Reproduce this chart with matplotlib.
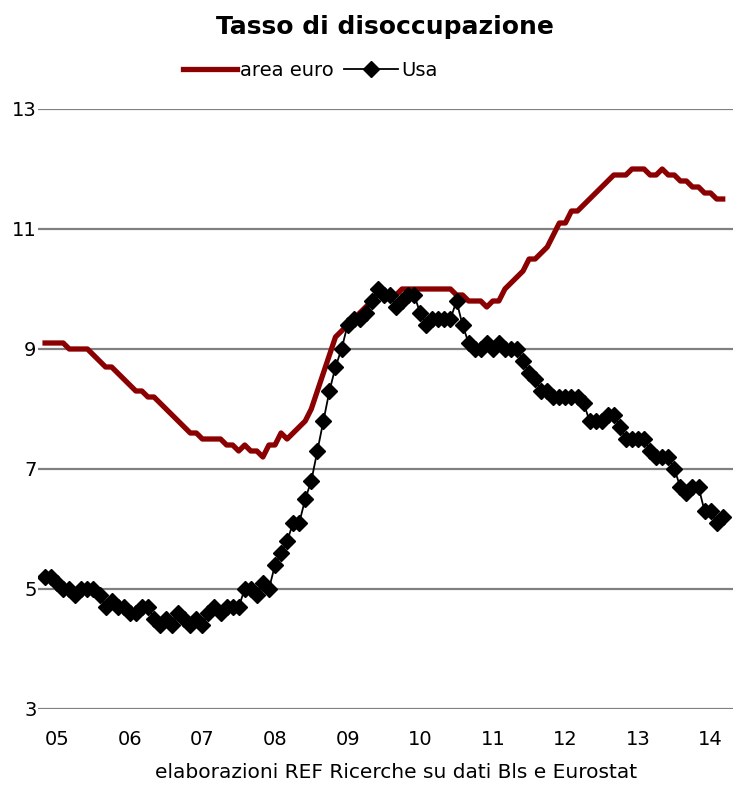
import matplotlib.pyplot as plt
import numpy as np

# monthly data, Mar 2005 - Jul 2014 (month index 0 = Jan 2005)
months = np.arange(2, 115)

area_euro = [9.1, 9.1, 9.1, 9.1, 9.0, 9.0, 9.0, 9.0, 8.9, 8.8,
             8.7, 8.7, 8.6, 8.5, 8.4, 8.3, 8.3, 8.2, 8.2, 8.1, 8.0, 7.9, 7.8, 7.7,
             7.6, 7.6, 7.5, 7.5, 7.5, 7.5, 7.4, 7.4, 7.3, 7.4, 7.3, 7.3,
             7.2, 7.4, 7.4, 7.6, 7.5, 7.6, 7.7, 7.8, 8.0, 8.3, 8.6, 8.9,
             9.2, 9.3, 9.4, 9.5, 9.6, 9.7, 9.8, 9.9, 9.9, 9.9, 9.9, 10.0,
             10.0, 10.0, 10.0, 10.0, 10.0, 10.0, 10.0, 10.0, 9.9, 9.9, 9.8, 9.8,
             9.8, 9.7, 9.8, 9.8, 10.0, 10.1, 10.2, 10.3, 10.5, 10.5, 10.6, 10.7,
             10.9, 11.1, 11.1, 11.3, 11.3, 11.4, 11.5, 11.6, 11.7, 11.8, 11.9, 11.9,
             11.9, 12.0, 12.0, 12.0, 11.9, 11.9, 12.0, 11.9, 11.9, 11.8, 11.8, 11.7,
             11.7, 11.6, 11.6, 11.5, 11.5]

usa = [5.2, 5.2, 5.1, 5.0, 5.0, 4.9, 5.0, 5.0, 5.0, 4.9,
       4.7, 4.8, 4.7, 4.7, 4.6, 4.6, 4.7, 4.7, 4.5, 4.4, 4.5, 4.4,
       4.6, 4.5, 4.4, 4.5, 4.4, 4.6, 4.7, 4.6, 4.7, 4.7, 4.7, 5.0,
       5.0, 4.9, 5.1, 5.0, 5.4, 5.6, 5.8, 6.1, 6.1, 6.5, 6.8, 7.3,
       7.8, 8.3, 8.7, 9.0, 9.4, 9.5, 9.5, 9.6, 9.8, 10.0, 9.9, 9.9,
       9.7, 9.8, 9.9, 9.9, 9.6, 9.4, 9.5, 9.5, 9.5, 9.5, 9.8, 9.4,
       9.1, 9.0, 9.0, 9.1, 9.0, 9.1, 9.0, 9.0, 9.0, 8.8, 8.6, 8.5,
       8.3, 8.3, 8.2, 8.2, 8.2, 8.2, 8.2, 8.1, 7.8, 7.8, 7.8, 7.9,
       7.9, 7.7, 7.5, 7.5, 7.5, 7.5, 7.3, 7.2, 7.2, 7.2, 7.0, 6.7,
       6.6, 6.7, 6.7, 6.3, 6.3, 6.1, 6.2]

year_labels = ['05', '06', '07', '08', '09', '10', '11', '12', '13', '14']
year_pos = [4 + 12 * i for i in range(len(year_labels))]

plt.rcParams['font.family'] = 'DejaVu Sans'

fig = plt.figure(figsize=(7.33, 7.87), dpi=100)
ax = fig.add_axes([38 / 733, 78 / 787, 695 / 733, 600 / 787])

ax.plot(months, area_euro, color='#8b0000', lw=3.8, label='area euro',
        solid_joinstyle='round', zorder=3)
ax.plot(months, usa, color='black', lw=1.3, marker='D', markersize=8,
        label='Usa', zorder=4)

ax.set_ylim(3, 13)
ax.set_xlim(0.83, 115.7)
ax.set_yticks([3, 5, 7, 9, 11, 13])
ax.set_xticks(year_pos)
ax.set_xticklabels(year_labels)
ax.tick_params(length=0, labelsize=14)
ax.tick_params(axis='y', pad=1)
ax.tick_params(axis='x', pad=15)
ax.yaxis.grid(True, color='#808080', lw=1.6)
ax.set_axisbelow(True)
for s in ax.spines.values():
    s.set_visible(False)

fig.text(0.525, 1 - 27 / 787, 'Tasso di disoccupazione', ha='center', va='center',
         fontsize=18, fontweight='bold')
fig.text(0.540, 1 - 773 / 787, 'elaborazioni REF Ricerche su dati Bls e Eurostat',
         ha='center', va='center', fontsize=14.5)
fig.legend(loc='center', bbox_to_anchor=(0.423, 1 - 70 / 787), ncol=2, frameon=False,
           fontsize=14, handlelength=2.8, handletextpad=0.15, columnspacing=0.5)

fig.savefig('out.png', dpi=100)
